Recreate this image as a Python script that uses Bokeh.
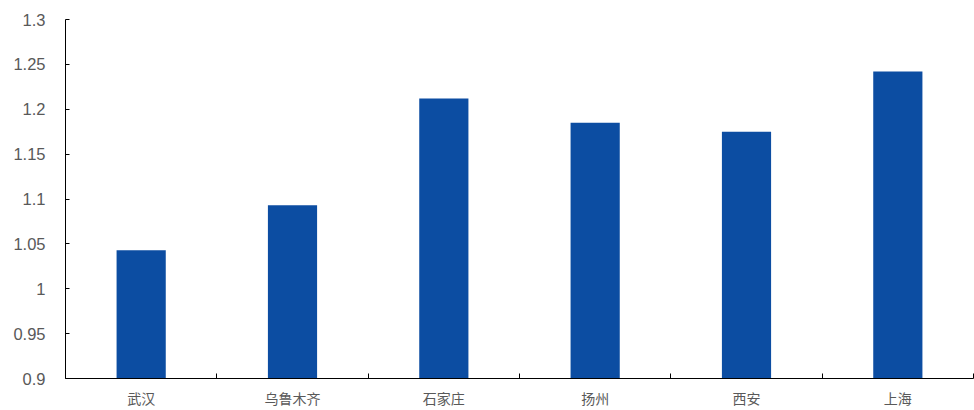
from bokeh.plotting import figure
from bokeh.models import Range1d, FixedTicker, CustomJSTickFormatter, ColumnDataSource
from bokeh.embed import file_html
from bokeh.resources import INLINE

cities = ["武汉", "乌鲁木齐", "石家庄", "扬州", "西安", "上海"]
values = [1.043, 1.093, 1.212, 1.185, 1.175, 1.242]
y_ticks = [0.9, 0.95, 1.0, 1.05, 1.1, 1.15, 1.2, 1.25, 1.3]

n = len(cities)
x = [i + 0.5 for i in range(n)]
src = ColumnDataSource(dict(x=x, top=values, city=cities))

p = figure(width=974, height=410,
           x_range=Range1d(0, n), y_range=Range1d(y_ticks[0], y_ticks[-1]),
           output_backend="svg", toolbar_location=None,
           min_border_left=65, min_border_right=1, min_border_top=19, min_border_bottom=32)

p.vbar(x="x", top="top", bottom=y_ticks[0], width=0.325, source=src,
       fill_color="#0C4DA2", line_color=None)

p.outline_line_color = None
p.xgrid.grid_line_color = None
p.ygrid.grid_line_color = None

xa = p.xaxis[0]
xa.ticker = FixedTicker(ticks=x, minor_ticks=list(range(n + 1)))
xa.formatter = CustomJSTickFormatter(args=dict(labels=cities),
                                     code="return labels[Math.floor(tick)];")
xa.major_tick_in = 0
xa.major_tick_out = 0
xa.minor_tick_in = 5
xa.minor_tick_out = 0
xa.minor_tick_line_color = "#000000"
xa.axis_line_color = "#000000"
xa.major_label_text_font = "Noto Sans CJK SC"
xa.major_label_text_font_size = "14px"
xa.major_label_text_color = "#595959"
xa.major_label_standoff = 9

ya = p.yaxis[0]
ya.ticker = FixedTicker(ticks=y_ticks)
ya.formatter = CustomJSTickFormatter(code="return String(Number(tick.toFixed(2)));")
ya.major_tick_in = 4
ya.major_tick_out = 0
ya.minor_tick_line_color = None
ya.axis_line_color = "#000000"
ya.major_tick_line_color = "#000000"
ya.major_label_text_font = "Liberation Sans"
ya.major_label_text_font_size = "16.5px"
ya.major_label_text_color = "#595959"
ya.major_label_standoff = 20

open("out.html", "w").write(file_html(p, INLINE))
